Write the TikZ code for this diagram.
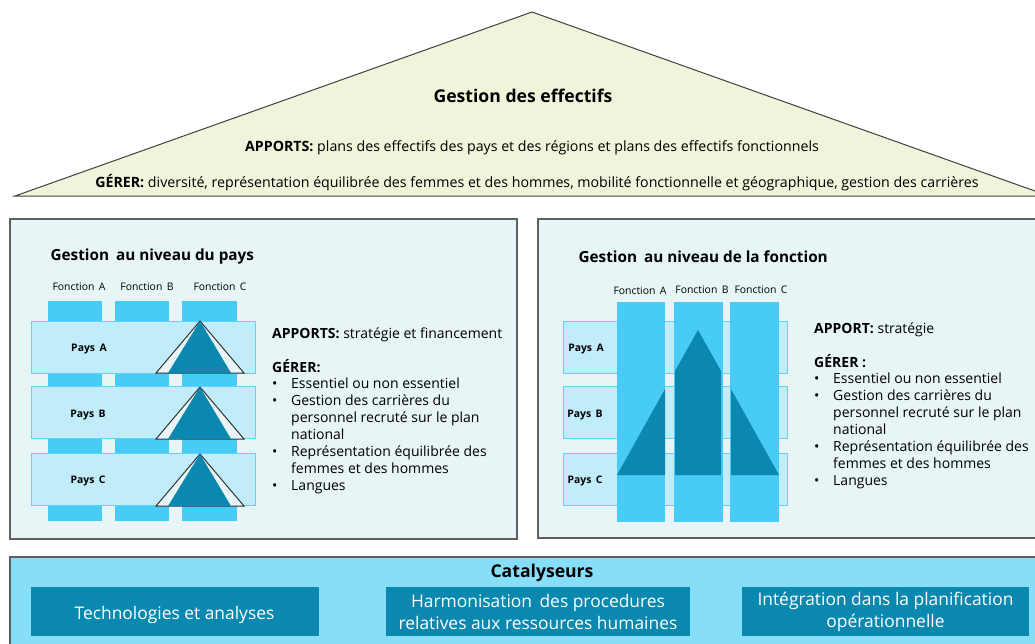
\documentclass[tikz,border=0pt]{standalone}
\usepackage{fontspec}
\setmainfont{Open Sans}
\usepackage{xcolor}

\definecolor{pale}{HTML}{F1F3DA}
\definecolor{panel}{HTML}{E7F5F7}
\definecolor{frame}{HTML}{5F5F5F}
\definecolor{colblue}{HTML}{48CCF5}
\definecolor{rowblue}{HTML}{C1ECFA}
\definecolor{rowline}{HTML}{60D2F6}
\definecolor{deep}{HTML}{0B88B0}
\definecolor{catbg}{HTML}{86DEF8}

\newcommand{\puce}{\makebox[19pt][l]{\textbullet}}
\newcommand{\suite}{\hspace*{19pt}}

\begin{document}
\begin{tikzpicture}[x=1pt, y=-1pt,
    panelbox/.style = {draw=frame, fill=panel, line width=1.2pt},
    col/.style = {fill=colblue, inner sep=0, minimum height=220pt},
    row/.style = {draw=rowline, fill=rowblue, line width=1pt, inner sep=0, minimum width=224pt, minimum height=52pt},
    flbl/.style = {font=\fontsize{10.4}{12}\selectfont},
    pays/.style = {font=\bfseries\fontsize{10.4}{12}\selectfont},
    title/.style = {anchor=west, font=\bfseries\fontsize{15.3}{17}\selectfont},
    txt/.style = {anchor=west, inner sep=0, font=\fontsize{14}{17}\selectfont},
    list/.style = {anchor=north west, inner sep=0, align=left, font=\fontsize{14}{17}\selectfont},
    cat/.style = {fill=deep, text=white, inner sep=0, minimum height=49pt, align=center, font=\fontsize{17.4}{22}\selectfont}]

\useasboundingbox (0,0) rectangle (1035,643);

% roof
\filldraw[fill=pale, draw=black!75, line width=1pt] (15,196) -- (532,12) -- (1049,196) -- cycle;
\node[font=\bfseries\fontsize{17.6}{20}\selectfont] (roof) at (523,96) {Gestion des effectifs};
\node[font=\fontsize{14.2}{16}\selectfont] (roofin) at (532,148) {\textbf{APPORTS:} plans des effectifs des pays et des régions et plans des effectifs fonctionnels};
\node[font=\fontsize{14.2}{16}\selectfont] (roofout) at (537,182.5) {\textbf{GÉRER:} diversité, représentation équilibrée des femmes et des hommes, mobilité fonctionnelle et géographique, gestion des carrières};

% country level
\draw[panelbox] (10,219) rectangle (517,539);
\node[title] (tp) at (47,257) {Gestion\hspace{3pt} au niveau du pays};
\node[flbl] (pfa) at (79,287) {Fonction\, A};
\node[flbl] (pfb) at (147,287) {Fonction\, B};
\node[flbl] (pfc) at (220,287) {Fonction\, C};
\node[col, minimum width=54pt] (pca) at (75,411) {};
\node[col, minimum width=54pt] (pcb) at (142,411) {};
\node[col, minimum width=55pt] (pcc) at (209.5,411) {};
\node[row] (pra) at (143,347) {};
\node[row] (prb) at (143,412.5) {};
\node[row] (prc) at (143,479) {};
\node[pays] at (89,349) {Pays\, A};
\node[pays] at (88,415) {Pays\, B};
\node[pays] at (88,481) {Pays\, C};
\filldraw[fill=panel, draw=black!80, line width=1pt] (156,373) -- (200,321) -- (244,373) -- cycle;
\fill[deep] (168,373) -- (200,321) -- (231,373) -- cycle;
\filldraw[fill=panel, draw=black!80, line width=1pt] (156,439) -- (200,387) -- (244,439) -- cycle;
\fill[deep] (168,439) -- (200,387) -- (231,439) -- cycle;
\filldraw[fill=panel, draw=black!80, line width=1pt] (156,506) -- (200,454) -- (244,506) -- cycle;
\fill[deep] (168,506) -- (200,454) -- (231,506) -- cycle;
\node[txt] (pin) at (272,335) {\textbf{APPORTS:} stratégie et financement};
\node[txt] (pout) at (272,366) {\textbf{GÉRER:}};
\node[list] (plist) at (272,378) {\puce Essentiel ou non essentiel\\
    \puce Gestion des carrières du\\ \suite personnel recruté sur le plan\\ \suite national\\
    \puce Représentation équilibrée des\\ \suite femmes et des hommes\\
    \puce Langues};

% function level
\draw[panelbox] (538,219) rectangle (1045,538);
\node[title] (tf) at (575,257) {Gestion\hspace{3pt} au niveau de la fonction};
\node[row] (fra) at (675,347) {};
\node[row] (frb) at (675,412.5) {};
\node[row] (frc) at (675,479) {};
\node[pays] at (586,349) {Pays\, A};
\node[pays] at (585,415) {Pays\, B};
\node[pays] at (585,481) {Pays\, C};
\node[col, minimum width=48pt] (fca) at (641,412) {};
\node[col, minimum width=49pt] (fcb) at (698.5,412) {};
\node[col, minimum width=49pt] (fcc) at (754.5,412) {};
\node[flbl] (ffa) at (640,291) {Fonction\, A};
\node[flbl] (ffb) at (702,290) {Fonction\, B};
\node[flbl] (ffc) at (761,290) {Fonction\, C};
\fill[deep] (617,475) -- (665,389) -- (665,475) -- cycle;
\fill[deep] (675,475) -- (675,371) -- (698,330) -- (721,371) -- (721,475) -- cycle;
\fill[deep] (731,475) -- (731,389) -- (779,475) -- cycle;
\node[txt] (fin) at (814,330) {\textbf{APPORT:} stratégie};
\node[txt] (fout) at (814,361) {\textbf{GÉRER :}};
\node[list] (flist) at (814,373) {\puce Essentiel ou non essentiel\\
    \puce Gestion des carrières du\\ \suite personnel recruté sur le plan\\ \suite national\\
    \puce Représentation équilibrée des\\ \suite femmes et des hommes\\
    \puce Langues};

% enablers
\draw[draw=frame, fill=catbg, line width=1.2pt] (10,557) rectangle (1045,660);
\node[font=\bfseries\fontsize{17.6}{20}\selectfont] (cat) at (542,573) {Catalyseurs};
\node[cat, minimum width=288pt] (c1) at (174.5,611.5) {};
\node[text=white, font=\fontsize{17.4}{22}\selectfont] (c1t) at ([yshift=-3pt]c1.center) {Technologies et analyses};
\node[cat, minimum width=304pt] (c2) at (538,611.5) {Harmonisation\, des procedures\\ relatives aux ressources humaines};
\node[cat, minimum width=287pt] (c3) at (885.5,611.5) {Intégration dans la planification\\ opérationnelle};
\end{tikzpicture}
\end{document}
